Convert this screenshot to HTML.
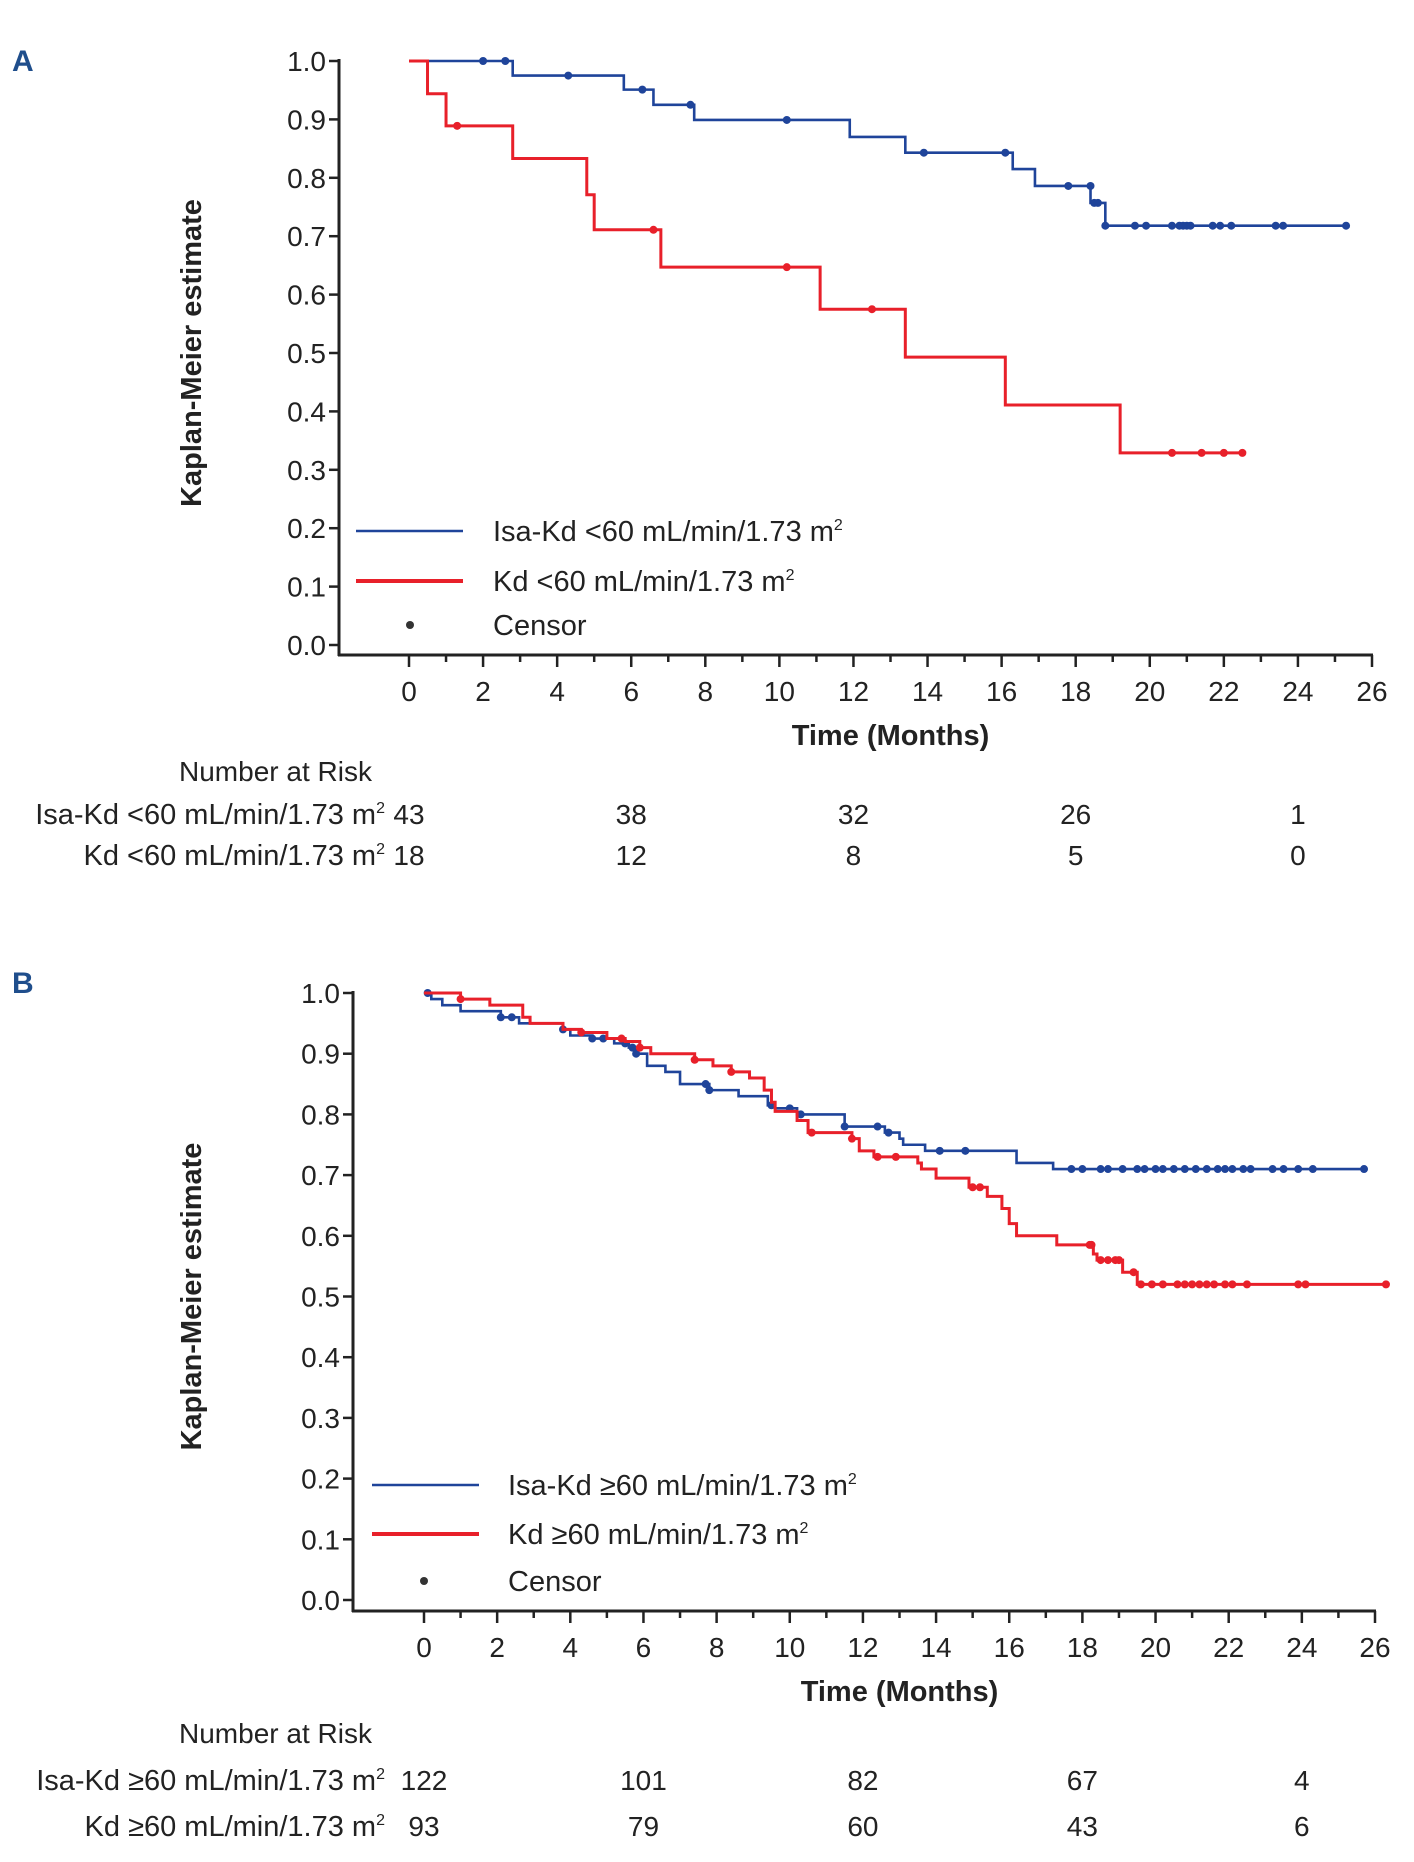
<!DOCTYPE html>
<html><head><meta charset="utf-8">
<style>
html,body{margin:0;padding:0;background:#fff;}
svg{display:block;font-family:"Liberation Sans",Arial,sans-serif;}
</style></head>
<body>
<svg id="chart" width="1414" height="1862" viewBox="0 0 1414 1862" xmlns="http://www.w3.org/2000/svg">
<text x="12" y="71" font-size="30" font-weight="bold" fill="#1f4e8c">A</text>
<text x="12" y="993" font-size="30" font-weight="bold" fill="#1f4e8c">B</text>
</svg>
<script>
// ---- Panel A data ----
const xTicks = [0,2,4,6,8,10,12,14,16,18,20,22,24,26];
const yTicks = [0.0,0.1,0.2,0.3,0.4,0.5,0.6,0.7,0.8,0.9,1.0];
const riskTimes = [0,6,12,18,24];

const aBlueT = [0,2.8,5.8,6.6,7.7,11.9,13.4,16.3,16.9,18.4,18.8,25.3];
const aBlueS = [1.0,0.975,0.951,0.925,0.899,0.87,0.843,0.815,0.786,0.757,0.718,0.718];
const aBlueCT = [2.0,2.6,4.3,6.3,7.6,10.2,13.9,16.1,17.8,18.4,18.5,18.6,18.8,19.6,19.9,20.6,20.8,20.9,21.0,21.1,21.7,21.9,22.2,23.4,23.6,25.3];
const aBlueCS = [1.0,1.0,0.975,0.951,0.925,0.899,0.843,0.843,0.786,0.786,0.757,0.757,0.718,0.718,0.718,0.718,0.718,0.718,0.718,0.718,0.718,0.718,0.718,0.718,0.718,0.718];
const aRedT = [0,0.5,1.0,2.8,4.8,5.0,6.8,11.1,13.4,16.1,19.2,22.5];
const aRedS = [1.0,0.944,0.889,0.833,0.771,0.711,0.647,0.575,0.493,0.411,0.329,0.329];
const aRedCT = [1.3,6.6,10.2,12.5,20.6,21.4,22.0,22.5];
const aRedCS = [0.889,0.711,0.647,0.575,0.329,0.329,0.329,0.329];
const aRiskBlue = ["43","38","32","26","1"];
const aRiskRed = ["18","12","8","5","0"];

// ---- Panel B data ----
const bBlueT = [0,0.2,0.5,1.0,2.1,2.6,3.8,4.0,4.6,5.2,5.6,5.8,6.1,6.6,7.0,7.8,8.6,9.4,9.6,10.2,11.5,12.6,13.0,13.1,13.7,16.2,17.2,25.7];
const bBlueS = [1.0,0.99,0.98,0.97,0.96,0.95,0.94,0.93,0.925,0.917,0.91,0.90,0.88,0.87,0.85,0.84,0.83,0.815,0.81,0.80,0.78,0.77,0.76,0.75,0.74,0.72,0.71,0.71];
const bBlueCT = [0.1,2.1,2.4,3.8,4.6,4.9,5.5,5.7,5.8,7.7,7.8,9.5,10.0,10.3,11.5,12.4,12.7,14.1,14.8,17.7,18.0,18.5,18.7,19.1,19.5,19.7,20.0,20.2,20.5,20.8,21.1,21.4,21.7,21.9,22.1,22.4,22.6,23.2,23.5,23.9,24.3,25.7];
const bRedT = [0,0.2,1.0,1.8,2.7,2.9,3.8,4.3,5.0,5.5,5.9,6.2,7.4,7.9,8.4,8.9,9.3,9.5,9.6,10.2,10.5,11.7,11.9,12.3,13.5,13.6,14.0,14.9,15.4,15.8,16.0,16.2,17.3,18.3,18.4,19.1,19.5,26.3];
const bRedS = [1.0,1.0,0.99,0.98,0.96,0.95,0.94,0.935,0.925,0.92,0.91,0.90,0.89,0.88,0.87,0.86,0.84,0.82,0.805,0.79,0.77,0.76,0.74,0.73,0.72,0.71,0.695,0.68,0.665,0.645,0.62,0.60,0.585,0.57,0.56,0.54,0.52,0.52];
const bRedCT = [1.0,4.3,5.4,5.9,7.4,8.4,10.6,11.7,12.4,12.9,15.0,15.2,18.2,18.25,18.5,18.7,18.9,19.0,19.4,19.6,19.9,20.2,20.6,20.8,21.0,21.2,21.4,21.6,21.9,22.1,22.5,23.9,24.1,26.3];
const bRiskBlue = ["122","101","82","67","4"];
const bRiskRed = ["93","79","60","43","6"];

const NS = "http://www.w3.org/2000/svg";
const svg = document.getElementById('chart');
function mk(tag, attrs, parent){const e=document.createElementNS(NS,tag);for(const k in attrs)e.setAttribute(k,attrs[k]);(parent||svg).appendChild(e);return e;}
function stepAt(T,S,t){let v=S[0];for(let i=0;i<T.length;i++){if(T[i]<=t)v=S[i];}return v;}

function panel(p){
  const X=t=>p.x0+(p.x26-p.x0)*t/26;
  const Y=s=>p.y0+(p.y1-p.y0)*s;
  const g=mk('g',{});
  
  
  const ya=mk('line',{x1:p.ax,y1:Y(1)-2,x2:p.ax,y2:p.base+1,stroke:'#222','stroke-width':3},g);
  
  const xa=mk('line',{x1:p.ax-1,y1:p.base,x2:X(26)+1,y2:p.base,stroke:'#222','stroke-width':3},g);
  
  yTicks.forEach(v=>{
    const tk=mk('line',{x1:p.ax-10,y1:Y(v),x2:p.ax,y2:Y(v),stroke:'#222','stroke-width':2.5},g);
    
    const tx=mk('text',{x:p.ax-13,y:Y(v)+10,'font-size':28,'text-anchor':'end',fill:'#222'},g);
    tx.textContent=v.toFixed(1);
    
  });
  for(let t=0;t<=26;t++){
    const major=t%2===0;
    const tk=mk('line',{x1:X(t),y1:p.base,x2:X(t),y2:p.base+(major?12:7),stroke:'#222','stroke-width':2.5},g);
    
  }
  xTicks.forEach(t=>{
    const tx=mk('text',{x:X(t),y:p.base+46,'font-size':28,'text-anchor':'middle',fill:'#222'},g);
    tx.textContent=t;
    
  });
  const xt=mk('text',{x:(X(0)+X(26))/2,y:p.base+90,'font-size':29,'font-weight':'bold','text-anchor':'middle',fill:'#222'},g);
  xt.textContent='Time (Months)';
  
  const yt=mk('text',{x:0,y:0,'font-size':29,'font-weight':'bold','text-anchor':'middle',fill:'#222',transform:`translate(201,${(Y(0)+Y(1))/2}) rotate(-90)`},g);
  yt.textContent='Kaplan-Meier estimate';
  
  function series(T,S,CT,CS,color,w,name){
    let d=`M${X(T[0])},${Y(S[0])}`;
    for(let i=1;i<T.length;i++){d+=` H${X(T[i])} V${Y(S[i])}`;}
    const pa=mk('path',{d:d,fill:'none',stroke:color,'stroke-width':w},g);
    
    CT.forEach((t,i)=>{
      const s=CS?CS[i]:stepAt(T,S,t);
      const c=mk('circle',{cx:X(t),cy:Y(s),r:4,fill:color},g);
      
    });
  }
  series(p.bT,p.bS,p.bCT,p.bCS,'#1f449a',2.6,p.id+'-blue');
  series(p.rT,p.rS,p.rCT,p.rCS,'#e8202a',3,p.id+'-red');
  const L=p.leg;
  const l1=mk('line',{x1:L.x1,y1:L.y1,x2:L.x2,y2:L.y1,stroke:'#1f449a','stroke-width':2.6},g);
  
  const l2=mk('line',{x1:L.x1,y1:L.y2,x2:L.x2,y2:L.y2,stroke:'#e8202a','stroke-width':4},g);
  
  const cd=mk('circle',{cx:L.dx,cy:L.y3,r:4,fill:'#333'},g);
  
  [[L.y1,p.names[0]],[L.y2,p.names[1]],[L.y3,'Censor']].forEach(([y,txt])=>{
    const t=mk('text',{x:L.tx,y:y+10,'font-size':29,fill:'#222'},g);
    t.innerHTML=txt;
    
  });
  const rh=mk('text',{x:179,y:p.risk[0]+10,'font-size':28,fill:'#222'},g);
  rh.textContent='Number at Risk';
  
  [[p.risk[1],p.names[0],p.rb],[p.risk[2],p.names[1],p.rr]].forEach(([y,lab,vals])=>{
    const t=mk('text',{x:p.labR,y:y+10,'font-size':29,'text-anchor':'end',fill:'#222'},g);
    t.innerHTML=lab;
    
    vals.forEach((v,i)=>{
      const vx=mk('text',{x:X(riskTimes[i]),y:y+10,'font-size':28,'text-anchor':'middle',fill:'#222'},g);
      vx.textContent=v;
      
    });
  });
}
const sup='m<tspan font-size="16" dy="-11">2</tspan>';
panel({id:'panel-a',ax:339,x0:409,x26:1372,y1:61,y0:645,base:655,
  bT:aBlueT,bS:aBlueS,bCT:aBlueCT,bCS:aBlueCS,rT:aRedT,rS:aRedS,rCT:aRedCT,rCS:aRedCS,
  leg:{x1:356,x2:463,y1:531,y2:581,y3:625,dx:410,tx:493},
  names:['Isa-Kd &lt;60 mL/min/1.73 '+sup,'Kd &lt;60 mL/min/1.73 '+sup],
  risk:[771,814,855],labR:385,rb:aRiskBlue,rr:aRiskRed});
panel({id:'panel-b',ax:353,x0:424,x26:1375,y1:993,y0:1600,base:1611,
  bT:bBlueT,bS:bBlueS,bCT:bBlueCT,bCS:null,rT:bRedT,rS:bRedS,rCT:bRedCT,rCS:null,
  leg:{x1:372,x2:479,y1:1485,y2:1534,y3:1581,dx:424,tx:508},
  names:['Isa-Kd ≥60 mL/min/1.73 '+sup,'Kd ≥60 mL/min/1.73 '+sup],
  risk:[1733,1780,1826],labR:385,rb:bRiskBlue,rr:bRiskRed});
</script>
</body></html>
